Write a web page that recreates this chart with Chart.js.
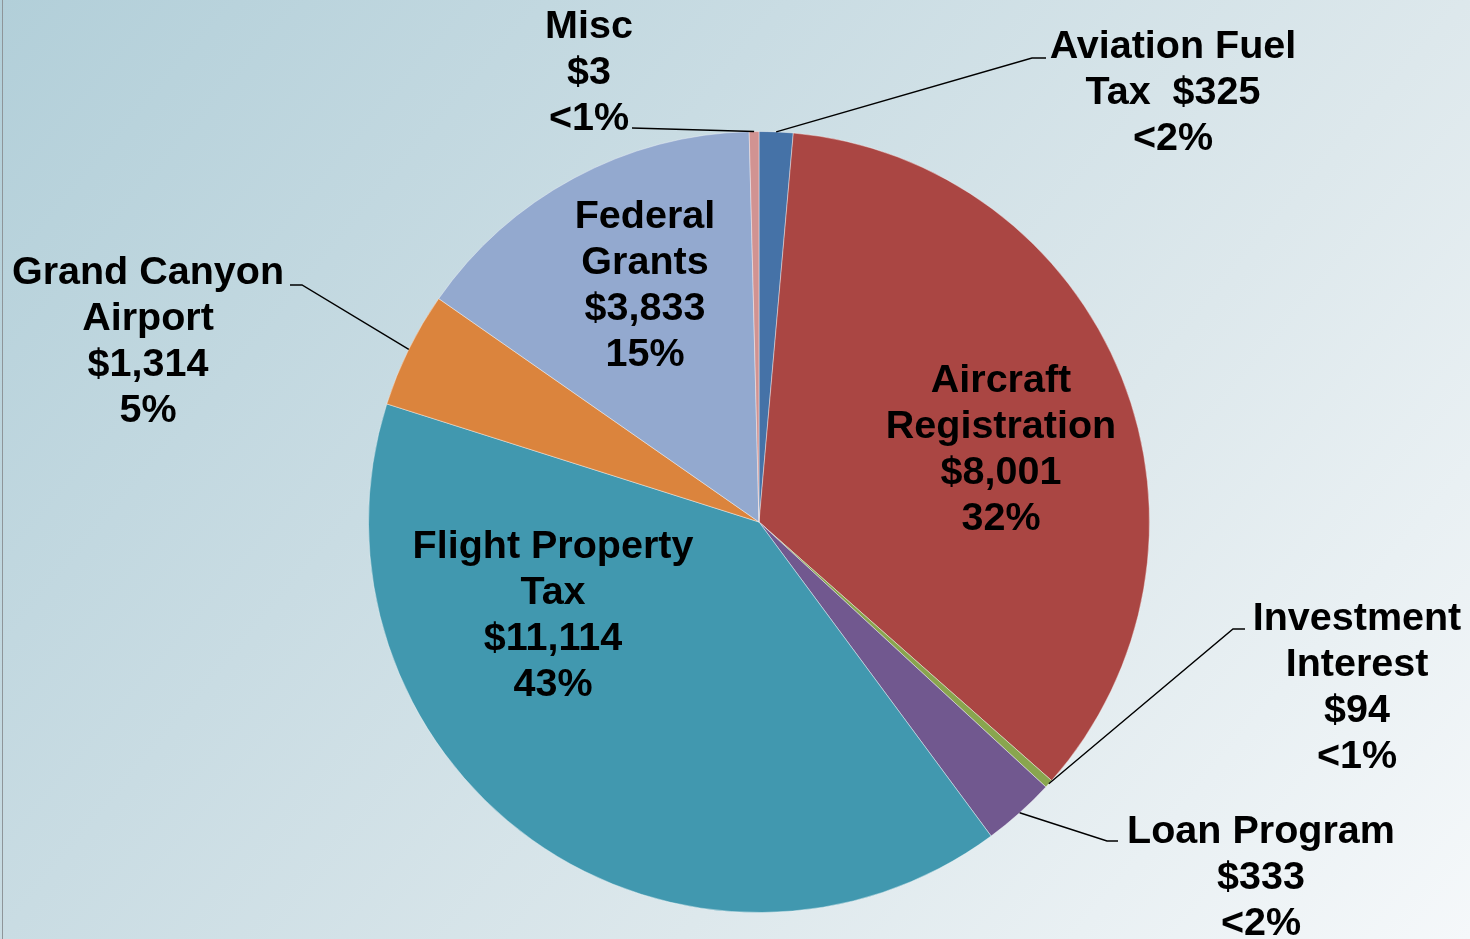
<!DOCTYPE html>
<html>
<head>
<meta charset="utf-8">
<script src="https://cdn.jsdelivr.net/npm/chart.js@4.4.1/dist/chart.umd.min.js"></script>
<style>
  html, body { margin: 0; padding: 0; }
  body {
    width: 1470px; height: 939px; overflow: hidden; position: relative;
    background: linear-gradient(130deg, #B2CFD9 0%, #C9DCE3 35%, #DDE8EC 65%, #F5F8FA 100%);
  }
  #edge { position: absolute; left: 2px; top: 0; width: 1px; height: 939px; background: #8E9599; }
  canvas { position: absolute; left: 0; top: 0; }
</style>
</head>
<body>
<div id="edge"></div>
<canvas id="c" width="1470" height="939"></canvas>
<script>
// ---- data ----
const categories = ['Aviation Fuel Tax', 'Aircraft Registration', 'Investment Interest', 'Loan Program',
                    'Flight Property Tax', 'Grand Canyon Airport', 'Federal Grants', 'Misc'];
const categoryLines = [['Aviation Fuel', 'Tax'], ['Aircraft', 'Registration'], ['Investment', 'Interest'], ['Loan Program'],
                       ['Flight Property', 'Tax'], ['Grand Canyon', 'Airport'], ['Federal', 'Grants'], ['Misc']];
const dollarLabels = ['$325', '$8,001', '$94', '$333', '$11,114', '$1,314', '$3,833', '$3'];
const percentLabels = ['<2%', '32%', '<1%', '<2%', '43%', '5%', '15%', '<1%'];
// slice sizes as drawn in the picture (percent of the circle)
const sliceShares = [1.4, 35.1, 0.35, 3.0, 40.0, 4.8, 14.9, 0.4];
const sliceColors = ['#4572A7', '#AA4643', '#89A54E', '#71588F', '#4198AF', '#DB843D', '#93A9CF', '#D19392'];

// ---- label layout (positions only) ----
const LINE_H = 46;
const labelLayout = [
  { x: 1173, y: 58, joinDollar: true, leader: [[1032, 58], [1046, 58]] },
  { x: 1001, y: 392 },
  { x: 1357, y: 630, leader: [[1233, 629], [1245, 629]] },
  { x: 1261, y: 843, leader: [[1107, 841], [1118, 841]] },
  { x: 553, y: 558 },
  { x: 148, y: 284, leader: [[302, 285], [290, 285]] },
  { x: 645, y: 228 },
  { x: 589, y: 38, leader: [[632, 128]] }
];

function buildLines(i) {
  const names = categoryLines[i].slice();
  if (labelLayout[i].joinDollar) {
    names[names.length - 1] = names[names.length - 1] + '  ' + dollarLabels[i];
    return names.concat([percentLabels[i]]);
  }
  return names.concat([dollarLabels[i], percentLabels[i]]);
}

const labelPlugin = {
  id: 'sliceLabels',
  afterDatasetsDraw(chart) {
    const ctx = chart.ctx;
    const arcs = chart.getDatasetMeta(0).data;
    ctx.save();
    ctx.strokeStyle = '#000';
    ctx.lineWidth = 1.4;
    arcs.forEach((arc, i) => {
      const lay = labelLayout[i];
      if (!lay.leader) return;
      const p = arc.getProps(['x', 'y', 'startAngle', 'endAngle', 'outerRadius'], true);
      const mid = (p.startAngle + p.endAngle) / 2;
      const sx = p.x + Math.cos(mid) * p.outerRadius;
      const sy = p.y + Math.sin(mid) * p.outerRadius;
      ctx.beginPath();
      ctx.moveTo(sx, sy);
      lay.leader.forEach(pt => ctx.lineTo(pt[0], pt[1]));
      ctx.stroke();
    });
    ctx.fillStyle = '#000';
    ctx.font = 'bold 39.5px "Liberation Sans", Arial, sans-serif';
    ctx.textAlign = 'center';
    ctx.textBaseline = 'alphabetic';
    categories.forEach((c, i) => {
      const lay = labelLayout[i];
      buildLines(i).forEach((t, k) => ctx.fillText(t, lay.x, lay.y + k * LINE_H));
    });
    ctx.restore();
  }
};

new Chart(document.getElementById('c'), {
  type: 'pie',
  data: {
    labels: categories,
    datasets: [{
      data: sliceShares,
      backgroundColor: sliceColors,
      borderColor: 'rgba(255,255,255,0.4)',
      borderWidth: 1
    }]
  },
  options: {
    responsive: false,
    animation: false,
    devicePixelRatio: 1,
    layout: { padding: { left: 368, right: 320, top: 131, bottom: 26 } },
    plugins: { legend: { display: false }, tooltip: { enabled: false } }
  },
  plugins: [labelPlugin]
});
</script>
</body>
</html>
